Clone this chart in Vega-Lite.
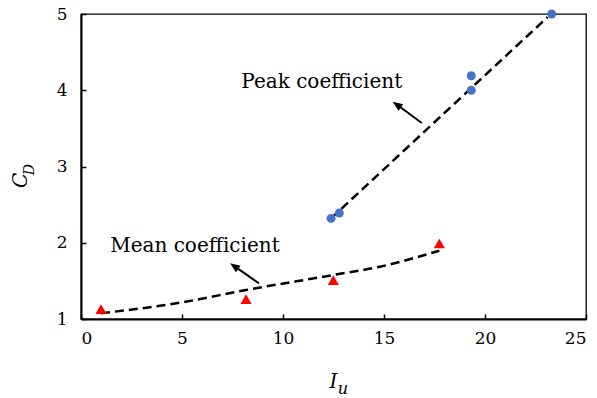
{
  "$schema": "https://vega.github.io/schema/vega-lite/v6.json",
  "width": 505,
  "height": 305,
  "autosize": {"type": "none"},
  "padding": {"left": 81, "top": 14, "right": 11, "bottom": 79},
  "background": "white",
  "config": {
    "view": {"stroke": "black", "strokeWidth": 1.3},
    "font": "DejaVu Serif",
    "axis": {
      "grid": false,
      "domainColor": "black",
      "domainWidth": 2,
      "tickColor": "black",
      "tickWidth": 1.5,
      "tickSize": -5,
      "labelFont": "DejaVu Serif",
      "labelFontSize": 17,
      "labelColor": "black",
      "format": "d",
      "title": null
    }
  },
  "datasets": {
    "peak": [
      {"Iu": 12.38, "CD": 2.32},
      {"Iu": 12.79, "CD": 2.39},
      {"Iu": 19.32, "CD": 4.19},
      {"Iu": 19.32, "CD": 4.0},
      {"Iu": 23.3, "CD": 5.0}
    ],
    "mean": [
      {"Iu": 0.99, "CD": 1.13},
      {"Iu": 8.17, "CD": 1.26},
      {"Iu": 12.49, "CD": 1.51},
      {"Iu": 17.74, "CD": 1.99}
    ],
    "peakFit": [
      {"Iu": 12.38, "CD": 2.32},
      {"Iu": 23.1, "CD": 4.96}
    ],
    "meanFit": [
      {"Iu": 0.99, "CD": 1.075},
      {"Iu": 4.9, "CD": 1.214},
      {"Iu": 8.17, "CD": 1.38},
      {"Iu": 12.49, "CD": 1.577},
      {"Iu": 14.8, "CD": 1.686},
      {"Iu": 17.74, "CD": 1.896}
    ],
    "arrows": [
      {"x": 16.87, "y": 3.57, "x2": 15.6, "y2": 3.82},
      {"x": 8.81, "y": 1.468, "x2": 7.55, "y2": 1.70}
    ],
    "heads": [
      {"x": 15.43, "y": 3.85},
      {"x": 7.38, "y": 1.73}
    ],
    "labels": [
      {"x": 11.92, "y": 4.03, "text": "Peak coefficient"},
      {"x": 5.64, "y": 1.875, "text": "Mean coefficient"}
    ]
  },
  "layer": [
    {
      "data": {"name": "peakFit"},
      "mark": {"type": "line", "color": "black", "strokeWidth": 2.5, "strokeDash": [9, 5]},
      "encoding": {
        "x": {"field": "Iu", "type": "quantitative", "scale": {"domain": [0, 25], "nice": false, "zero": false}, "axis": {"values": [0, 5, 10, 15, 20, 25], "labelPadding": 16}},
        "y": {"field": "CD", "type": "quantitative", "scale": {"domain": [1, 5], "nice": false, "zero": false}, "axis": {"values": [1, 2, 3, 4, 5], "labelPadding": 19}}
      }
    },
    {
      "data": {"name": "meanFit"},
      "mark": {"type": "line", "color": "black", "strokeWidth": 2.5, "strokeDash": [9, 5], "interpolate": "monotone"},
      "encoding": {
        "x": {"field": "Iu", "type": "quantitative"},
        "y": {"field": "CD", "type": "quantitative"}
      }
    },
    {
      "data": {"name": "peak"},
      "mark": {"type": "point", "shape": "circle", "filled": true, "color": "#4472C4", "opacity": 1, "size": 80},
      "encoding": {
        "x": {"field": "Iu", "type": "quantitative"},
        "y": {"field": "CD", "type": "quantitative"}
      }
    },
    {
      "data": {"name": "mean"},
      "mark": {"type": "point", "shape": "triangle-up", "filled": true, "color": "#FF0000", "opacity": 1, "size": 125},
      "encoding": {
        "x": {"field": "Iu", "type": "quantitative"},
        "y": {"field": "CD", "type": "quantitative"}
      }
    },
    {
      "data": {"name": "arrows"},
      "mark": {"type": "rule", "color": "black", "strokeWidth": 2},
      "encoding": {
        "x": {"field": "x", "type": "quantitative"},
        "y": {"field": "y", "type": "quantitative"},
        "x2": {"field": "x2"},
        "y2": {"field": "y2"}
      }
    },
    {
      "data": {"name": "heads"},
      "mark": {"type": "point", "shape": "M0,0L0.4,1L-0.4,1Z", "filled": true, "color": "black", "opacity": 1, "size": 400, "angle": 305},
      "encoding": {
        "x": {"field": "x", "type": "quantitative"},
        "y": {"field": "y", "type": "quantitative"}
      }
    },
    {
      "data": {"name": "labels"},
      "mark": {"type": "text", "font": "DejaVu Serif", "fontSize": 20, "color": "black", "align": "center", "baseline": "alphabetic"},
      "encoding": {
        "x": {"field": "x", "type": "quantitative"},
        "y": {"field": "y", "type": "quantitative"},
        "text": {"field": "text"}
      }
    },
    {
      "data": {"values": [
        {"x": -2.67, "y": 2.82, "t": "C", "s": 20},
        {"x": -2.33, "y": 2.96, "t": "D", "s": 14}
      ]},
      "mark": {"type": "text", "font": "DejaVu Serif", "fontStyle": "italic", "color": "black", "align": "center", "baseline": "alphabetic", "angle": 270},
      "encoding": {
        "x": {"field": "x", "type": "quantitative"},
        "y": {"field": "y", "type": "quantitative"},
        "text": {"field": "t"},
        "size": {"field": "s", "type": "quantitative", "scale": null}
      }
    },
    {
      "data": {"values": [
        {"x": 12.5, "y": 0.095, "t": "I", "s": 20},
        {"x": 12.97, "y": 0.016, "t": "u", "s": 16}
      ]},
      "mark": {"type": "text", "font": "DejaVu Serif", "fontStyle": "italic", "color": "black", "align": "center", "baseline": "alphabetic"},
      "encoding": {
        "x": {"field": "x", "type": "quantitative"},
        "y": {"field": "y", "type": "quantitative"},
        "text": {"field": "t"},
        "size": {"field": "s", "type": "quantitative", "scale": null}
      }
    }
  ]
}
